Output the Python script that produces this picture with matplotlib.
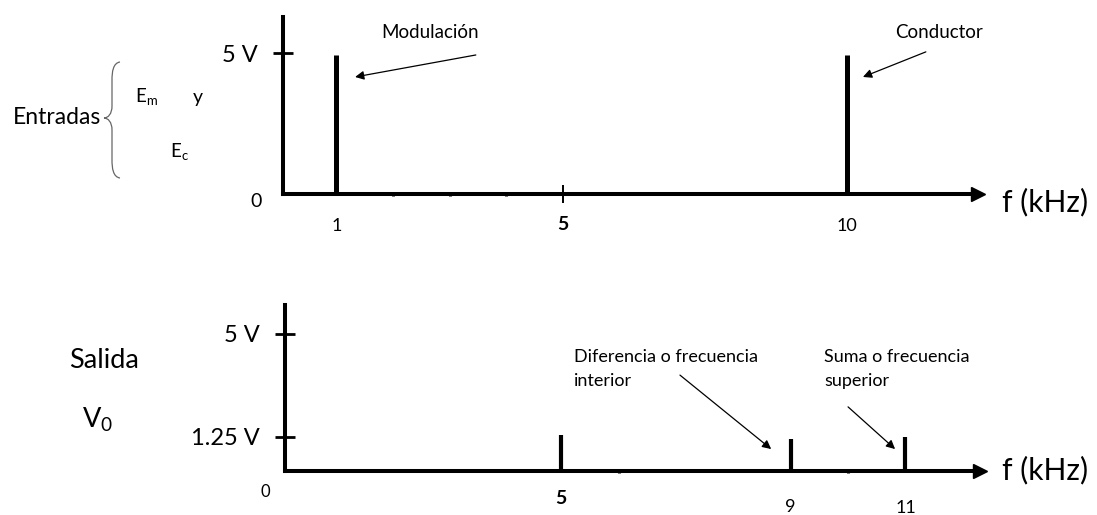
# -*- coding: utf-8 -*-
# Espectro de entrada / salida de un modulador (mezclador)
import matplotlib
matplotlib.use("Agg")
from matplotlib import pyplot as plt
from matplotlib.path import Path
from matplotlib.patches import PathPatch
from matplotlib import transforms

plt.rcParams['font.family'] = ['Lato', 'DejaVu Sans']

# ------------------------------------------------------------------- #
# Datos :
freq_in = [1, 10]              # kHz
amp_in = [4.93, 4.93]          # V
freq_out = [5, 9, 11]          # kHz
amp_out = [1.3, 1.15, 1.25]    # V

ticks_in = [1, 5, 10]
ticks_in_labels = ["1", "5", "10"]
minor_in = [2, 3, 4]
ticks_out = [5, 9, 11]
ticks_out_labels = ["5", "9", "11"]
minor_out = [6, 10]

yticks_in = [5]
yticks_in_labels = ["5 V"]
yticks_out = [1.25, 5]
yticks_out_labels = ["1.25 V", "5 V"]

W, H = 1097, 515
fig = plt.figure(figsize=(W / 100, H / 100), dpi=100)

ARROW = dict(arrowstyle="-|>", color="k", lw=0.9, mutation_scale=13,
             shrinkA=0, shrinkB=0)


def px(x, y):
    """pixel (desde arriba-izquierda) -> fraccion de figura"""
    return x / W, 1 - y / H


def make_axes(x0, y0, x1, y1, xlim, ymax):
    ax = fig.add_axes([x0 / W, 1 - y0 / H, (x1 - x0) / W, (y0 - y1) / H])
    ax.set_xlim(*xlim)
    ax.set_ylim(0, ymax)
    for side in ("top", "right"):
        ax.spines[side].set_visible(False)
    for side in ("left", "bottom"):
        ax.spines[side].set_linewidth(2.9)
        ax.spines[side].set_capstyle("projecting")
    ax.plot(1, 0, ">k", transform=ax.transAxes, clip_on=False, markersize=10)
    ax.patch.set_alpha(0)
    return ax


# ------------------------------------------------------------------- #
# Grafico superior : entradas
ax1 = make_axes(283, 194, 978, 17, (0.058, 12.32), 177 / 28.2)
ax1.vlines(freq_in, 0, amp_in, colors="k", linewidth=3.6)

ax1.set_yticks(yticks_in, yticks_in_labels, fontsize=17)
ax1.tick_params(axis="y", direction="inout", length=15, width=2, pad=11)
ax1.set_xticks(ticks_in, ticks_in_labels, fontsize=13)
ax1.set_xticks(minor_in, minor=True)
ax1.tick_params(axis="x", which="major", direction="inout", length=12.5,
                width=1.4, pad=11)
ax1.tick_params(axis="x", which="minor", direction="inout", length=3.5,
                width=2.2)
for i, t in enumerate(ax1.xaxis.get_major_ticks()):
    if ticks_in[i] != 5:
        t.tick1line.set_visible(False)
ax1.get_xticklabels()[1].set_fontweight("bold")
ax1.get_xticklabels()[1].set_fontsize(14)
ax1.xaxis.get_major_ticks()[1].set_pad(9.5)

ax1.text(-0.31, -0.25, "0", fontsize=14, ha="right", va="center")
ax1.text(2.65, 5.74, "Modulación", fontsize=13.5, ha="center", va="center")
ax1.annotate("", xy=(1.33, 4.15), xytext=(3.46, 4.93), arrowprops=ARROW)
ax1.text(11.63, 5.74, "Conductor", fontsize=13.5, ha="center", va="center")
ax1.annotate("", xy=(10.29, 4.15), xytext=(11.40, 5.04), arrowprops=ARROW)
ax1.text(12.74, -0.3, "f (kHz)", fontsize=21.5, ha="left", va="center")

# ------------------------------------------------------------------- #
# Grafico inferior : salida
ax2 = make_axes(285, 471, 980, 305, (0.185, 12.30), 166 / 27.4)
ax2.vlines(freq_out, 0, amp_out, colors="k", linewidth=3.0)

ax2.set_yticks(yticks_out, yticks_out_labels, fontsize=17)
ax2.tick_params(axis="y", direction="inout", length=15, width=2, pad=11)
ax2.set_xticks(ticks_out, ticks_out_labels, fontsize=13)
ax2.set_xticks(minor_out, minor=True)
ax2.tick_params(axis="x", which="major", length=0)
ax2.tick_params(axis="x", which="minor", direction="inout", length=3.5,
                width=2.2)
for t, p in zip(ax2.xaxis.get_major_ticks(), [13.5, 20, 21]):
    t.set_pad(p)
ax2.get_xticklabels()[0].set_fontweight("bold")
ax2.get_xticklabels()[0].set_fontsize(14)

ax2.text(-0.15, -0.78, "0", fontsize=12, ha="center", va="center")
ax2.text(5.22, 3.72, "Diferencia o frecuencia\ninterior", fontsize=13,
         ha="left", va="center", linespacing=1.6)
ax2.annotate("", xy=(8.66, 0.80), xytext=(7.07, 3.50), arrowprops=ARROW)
ax2.text(9.58, 3.72, "Suma o frecuencia\nsuperior", fontsize=13,
         ha="left", va="center", linespacing=1.6)
ax2.annotate("", xy=(10.82, 0.80), xytext=(10.0, 2.34), arrowprops=ARROW)
ax2.text(12.69, 0.05, "f (kHz)", fontsize=21.5, ha="left", va="center")

# ------------------------------------------------------------------- #
# Etiquetas a la izquierda :
fig.text(*px(101, 118), "Entradas", fontsize=16.5, ha="right", va="center")
fig.text(*px(135, 97), r"E$_\mathregular{m}$", fontsize=13.5, va="center")
fig.text(*px(193, 97), "y", fontsize=14, va="center")
fig.text(*px(170, 152), r"E$_\mathregular{c}$", fontsize=13.5, va="center")
fig.text(*px(69, 360), "Salida", fontsize=19.5, ha="left", va="center")
fig.text(*px(82, 420), r"V$_\mathregular{0}$", fontsize=19.5, ha="left",
         va="center")

# llave "{"
pix = transforms.Affine2D().scale(1 / W, -1 / H).translate(0, 1) \
    + fig.transFigure
verts = [(120, 62), (113, 63), (112, 72), (112, 80),
         (112, 106),
         (112, 114), (108, 118), (104, 118),
         (108, 118), (112, 122), (112, 130),
         (112, 160),
         (112, 168), (113, 177), (120, 178)]
codes = [Path.MOVETO, Path.CURVE4, Path.CURVE4, Path.CURVE4,
         Path.LINETO,
         Path.CURVE4, Path.CURVE4, Path.CURVE4,
         Path.CURVE4, Path.CURVE4, Path.CURVE4,
         Path.LINETO,
         Path.CURVE4, Path.CURVE4, Path.CURVE4]
fig.add_artist(PathPatch(Path(verts, codes), transform=pix, fill=False,
                         edgecolor="#666666", linewidth=0.9))

fig.savefig("out.png", dpi=100)
